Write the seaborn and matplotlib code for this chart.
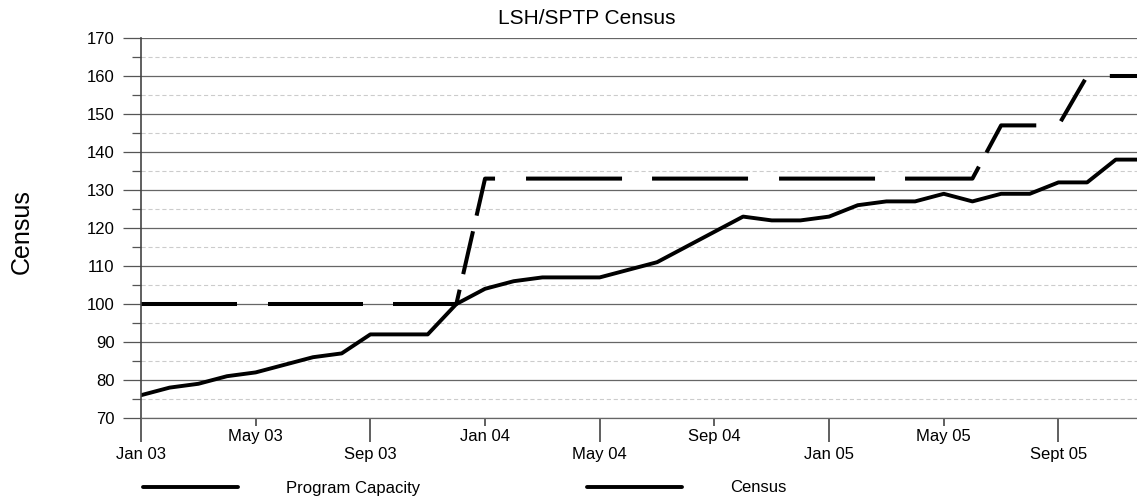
import numpy as np
import pandas as pd
import seaborn as sns
import matplotlib.pyplot as plt
from matplotlib.lines import Line2D
from matplotlib.ticker import MultipleLocator, FixedLocator

# monthly values, Jan 03 .. Dec 05
months = list(range(36))
census = [76, 78, 79, 81, 82, 84, 86, 87, 92, 92, 92, 100,
          104, 106, 107, 107, 107, 109, 111, 115, 119, 123, 122, 122,
          123, 126, 127, 127, 129, 127, 129, 129, 132, 132, 138, 138]
capacity = [100] * 12 + [133] * 18 + [147] * 3 + [160] * 3

long_ticks = [0, 8, 16, 24, 32]
long_labels = ['Jan 03', 'Sep 03', 'May 04', 'Jan 05', 'Sept 05']
short_ticks = [4, 12, 20, 28]
short_labels = ['May 03', 'Jan 04', 'Sep 04', 'May 05']

df = pd.DataFrame({'month': months, 'Census': census, 'Program Capacity': capacity})

sns.set_style('white')
plt.rcParams['font.family'] = ['Liberation Sans', 'DejaVu Sans']
plt.rcParams['text.color'] = 'black'
plt.rcParams['xtick.color'] = 'black'
plt.rcParams['ytick.color'] = 'black'
plt.rcParams['axes.labelcolor'] = 'black'
plt.rcParams['lines.scale_dashes'] = False

fig = plt.figure(figsize=(11.37, 5), dpi=100)
ax = fig.add_axes([141 / 1137, 82 / 500, 996 / 1137, 380 / 500])

sns.lineplot(data=df, x='month', y='Program Capacity', ax=ax, color='black', lw=2.9)
# the original dash pattern is shorter on the steep parts, so spell it out (pixels)
dash_px = [96, 31, 95, 30, 78, 16, 44, 16, 48, 31, 96, 30, 96, 31, 96, 30,
           81, 16, 66, 27, 48, 27, 300, 10]
ax.lines[-1].set_dashes([d * 0.72 for d in dash_px])
sns.lineplot(data=df, x='month', y='Census', ax=ax, color='black', lw=2.8)

ax.set_xlim(0, 34.74)
ax.set_ylim(70, 170)

# y axis
ax.yaxis.set_major_locator(MultipleLocator(10))
ax.yaxis.set_minor_locator(MultipleLocator(5))
ax.grid(axis='y', which='major', color='#666666', lw=0.9, ls='-')
ax.grid(axis='y', which='minor', color='#cccccc', lw=0.8, ls=(0, (3, 2)))
ax.tick_params(axis='y', which='major', length=13, width=0.9, color='#555555',
               labelsize=12, pad=6, left=True)
ax.tick_params(axis='y', which='minor', length=6.5, width=0.9, color='#555555', left=True)

# x axis: staggered labels
ax.xaxis.set_major_locator(FixedLocator(long_ticks))
ax.xaxis.set_minor_locator(FixedLocator(short_ticks))
ax.set_xticklabels(long_labels)
ax.set_xticklabels(short_labels, minor=True)
ax.tick_params(axis='x', which='major', length=17, width=1.2, color='#444444',
               labelsize=12, pad=4, bottom=True)
ax.tick_params(axis='x', which='minor', length=6, width=1.2, color='#444444',
               labelsize=12, pad=2, bottom=True)

for s in ['top', 'right']:
    ax.spines[s].set_visible(False)
ax.spines['left'].set_color('#444444')
ax.spines['left'].set_linewidth(1.2)
ax.spines['bottom'].set_color('#666666')
ax.spines['bottom'].set_linewidth(0.9)

ax.set_xlabel('')
ax.set_ylabel('Census', fontsize=18)
ax.yaxis.set_label_coords(-0.1074, 0.49)

fig.text(587 / 1137, 1 - 18.5 / 500, 'LSH/SPTP Census', ha='center', va='center', fontsize=15)

handles = [Line2D([], [], color='black', lw=2.8), Line2D([], [], color='black', lw=2.8)]
fig.legend(handles, ['Program Capacity', 'Census'], loc='center left',
           bbox_to_anchor=(128 / 1137, 1 - 488 / 500), ncol=2, frameon=False,
           fontsize=12, handlelength=5.7, handletextpad=2.9, columnspacing=10.0)

fig.savefig('out.png', dpi=100)
